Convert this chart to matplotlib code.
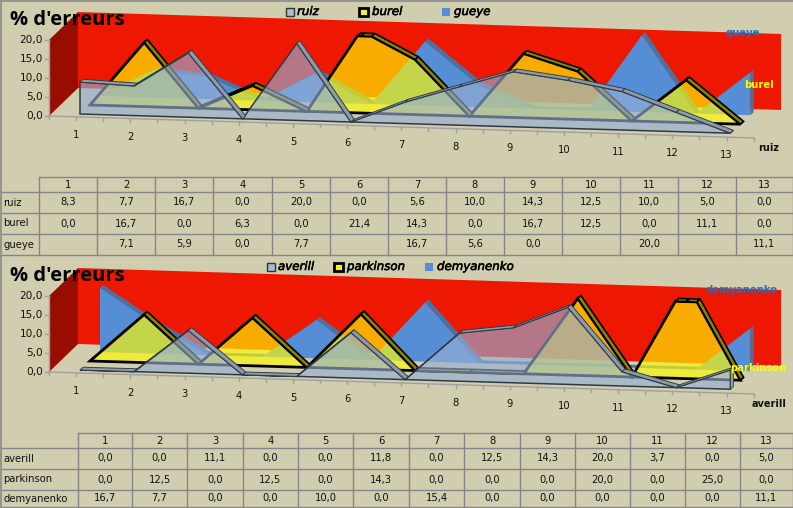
import numpy as np
import matplotlib
matplotlib.use("Agg")
import matplotlib.pyplot as plt
import matplotlib.patheffects as pe
from matplotlib.patches import Polygon, Rectangle
from matplotlib.transforms import Affine2D

categories = list(range(1, 14))
value_ticks = [0, 5, 10, 15, 20]
VALUE_MAX = 20

# None = cellule vide dans le tableau
ruiz = [8.3, 7.7, 16.7, 0, 20, 0, 5.6, 10, 14.3, 12.5, 10, 5, 0]
burel = [0, 16.7, 0, 6.3, 0, 21.4, 14.3, 0, 16.7, 12.5, 0, 11.1, 0]
gueye = [None, 7.1, 5.9, 0, 7.7, None, 16.7, 5.6, 0, None, 20, None, 11.1]

averill = [0, 0, 11.1, 0, 0, 11.8, 0, 12.5, 14.3, 20, 3.7, 0, 5]
parkinson = [0, 12.5, 0, 12.5, 0, 14.3, 0, 0, 0, 20, 0, 25, 0]
demyanenko = [16.7, 7.7, 0, 0, 10, 0, 15.4, 0, 0, 0, 0, 0, 11.1]

BG = "#D1CDAF"
GRID = "#85858C"
FONT = "DejaVu Sans"

fig = plt.figure(figsize=(7.93, 5.08), dpi=100, facecolor=BG)
ax = fig.add_axes([0, 0, 1, 1])
ax.set_xlim(0, 793)
ax.set_ylim(508, 0)
ax.axis("off")


def projection(x0, y0, step_x=54.2, step_y=1.6, scale=3.85):
    # categorie, valeur -> pixels (faux 3D d'Excel)
    return Affine2D.from_values(step_x, step_y, 0, -scale, x0 - step_x, y0 - step_y)


def clip_top(values):
    # coupe la courbe au maximum de l'axe, comme Excel
    vals = [0 if v is None else v for v in values]
    pts = []
    for i, c in enumerate(categories):
        v = vals[i]
        if i > 0:
            prev = vals[i - 1]
            if (prev - VALUE_MAX) * (v - VALUE_MAX) < 0:
                pts.append([c - 1 + (VALUE_MAX - prev) / (v - prev), VALUE_MAX])
        pts.append([c, min(v, VALUE_MAX)])
    return np.array(pts)


def draw_area(values, proj, face, edge, lw, ribbon, side, depth=(3.2, -2.8)):
    top = proj.transform(clip_top(values))
    base = proj.transform([[categories[-1], 0], [categories[0], 0]])
    ax.add_patch(Polygon(np.vstack([top, base]), closed=True, facecolor=face,
                         edgecolor=edge, lw=lw, joinstyle="miter"))
    # bandes du dessus, seulement celles tournees vers nous
    for p, q in zip(top[:-1], top[1:]):
        if (q[1] - p[1]) / (q[0] - p[0]) * depth[0] > depth[1]:
            pts = [p, q, q + depth, p + depth]
            ax.add_patch(Polygon(pts, closed=True, facecolor=ribbon,
                                 edgecolor=edge, lw=lw * 0.6))
    # cote droit
    pts = [top[-1], base[0], base[0] + depth, top[-1] + depth]
    ax.add_patch(Polygon(pts, closed=True, facecolor=side, edgecolor=edge, lw=lw * 0.5))


def draw_table(names, rows, xs, ys):
    for i, y in enumerate(ys):
        ax.plot([xs[0] if i == 0 else 2, 793], [y, y], color=GRID, lw=1)
    for j, x in enumerate(xs):
        ax.plot([x, x], [ys[0], ys[-1]], color=GRID, lw=1)
    for j, c in enumerate(categories):
        right = xs[j + 1]
        ax.text((xs[j] + right) / 2, (ys[0] + ys[1]) / 2, str(c), ha="center", va="center",
                fontsize=7.2, color="#111111", family=FONT)
    for i, (name, row) in enumerate(zip(names, rows)):
        yc = (ys[i + 1] + ys[i + 2]) / 2
        ax.text(3, yc, name, ha="left", va="center", fontsize=7.2, color="#111111", family=FONT)
        for j, v in enumerate(row):
            if v is not None:
                txt = f"{v:.1f}".replace(".", ",")
                ax.text((xs[j] + xs[j + 1]) / 2, yc, txt, ha="center", va="center",
                        fontsize=7.2, color="#111111", family=FONT)


def draw_chart(dy, names, series, legend_pos, label_back, label_mid):
    axis_tf = projection(49 + 27.1, 116 + dy + 0.85, step_y=1.69, scale=3.8)
    wall_tf = projection(78 + 27.05, 88 + dy + 0.85, step_x=54.08, step_y=1.69, scale=3.8)

    c0, c1 = categories[0] - 0.5, categories[-1] + 0.5
    wall = wall_tf.transform([[c0, 0], [c1, 0], [c1, VALUE_MAX], [c0, VALUE_MAX]])
    ax.add_patch(Polygon(wall, closed=True, facecolor="#EE1700", edgecolor="none"))
    side = np.vstack([axis_tf.transform([[c0, 0], [c0, VALUE_MAX]]),
                      wall_tf.transform([[c0, VALUE_MAX], [c0, 0]])])
    ax.add_patch(Polygon(side, closed=True, facecolor="#990C00", edgecolor="none"))

    # axes
    p = axis_tf.transform([[c0, 0], [c1, 0]])
    ax.plot(p[:, 0], p[:, 1], color="#A0A0A0", lw=1)
    for c in np.arange(c0, c1 + 0.1, 0.5):
        q = axis_tf.transform([c, 0])
        ax.plot([q[0], q[0]], [q[1], q[1] + 3], color="#A0A0A0", lw=1)
    p = axis_tf.transform([[c0, 0], [c0, VALUE_MAX]])
    ax.plot(p[:, 0], p[:, 1], color="#A0A0A0", lw=1)
    for v in value_ticks:
        q = axis_tf.transform([c0, v])
        ax.plot([q[0] - 4, q[0]], [q[1], q[1]], color="#A0A0A0", lw=1)
        ax.text(q[0] - 6, q[1], f"{v:.1f}".replace(".", ","), ha="right", va="center",
                fontsize=7.6, color="#111111", family=FONT)
    for c in categories:
        q = axis_tf.transform([c, 0])
        ax.text(q[0], q[1] + 18, str(c), ha="center", va="center", fontsize=7.2,
                color="#111111", family=FONT)

    # series, du fond vers l'avant
    draw_area(series[2], projection(100, 96 + dy), "#558ED5", "none", 0, "#4675A5", "#4675A5")
    draw_area(series[1], projection(90, 105 + dy), (1, 0.984, 0, 0.66), "black", 2.0,
              "#8C8400", "#8C8400")
    draw_area(series[0], projection(80, 114 + dy), (0.59, 0.686, 0.83, 0.64), "#2E3A44", 1.1,
              "#8D9BA8", "#8D9BA8")

    ax.text(label_back[0], label_back[1] + dy, names[2], color="#1F6FC0", fontsize=7.2,
            fontweight="bold", va="center", family=FONT)
    ax.text(label_mid[0], label_mid[1] + dy, names[1], color="#FFFF00", fontsize=7.2,
            fontweight="bold", va="center", family=FONT)
    q = axis_tf.transform([c1, 0])
    ax.text(q[0] + 15, q[1] + 10, names[0], ha="center", va="center", fontsize=7,
            fontweight="bold", color="#111111", family=FONT)

    ax.text(10, 20 + dy, "% d'erreurs", fontsize=14.5, fontweight="bold", ha="left",
            va="center", color="black", family="Open Sans")

    # legende
    ly = 11.5 + (dy - 1 if dy else 0)
    (x_a, x_b, x_c) = legend_pos
    ax.add_patch(Rectangle((x_a, ly - 4), 8, 8, facecolor="#A9BBD3", edgecolor="#333333", lw=1))
    ax.add_patch(Rectangle((x_b, ly - 4), 9, 8, facecolor="#F3EE3A", edgecolor="black", lw=2))
    ax.add_patch(Rectangle((x_c, ly - 4), 8, 8, facecolor="#558ED5", edgecolor="none"))
    for x, name in zip((x_a + 11, x_b + 13, x_c + 12), names):
        t = ax.text(x, ly, name, ha="left", va="center", fontsize=8.5, style="italic",
                    color="black", family=FONT)
        t.set_path_effects([pe.withStroke(linewidth=0.4, foreground="black")])


names_1 = ["ruiz", "burel", "gueye"]
names_2 = ["averill", "parkinson", "demyanenko"]

draw_chart(0, names_1, [ruiz, burel, gueye], (286, 359, 442), (726, 33), (744, 85))
draw_table(names_1, [ruiz, burel, gueye],
           [39, 97, 155, 213, 272, 330, 388, 446, 504, 562, 620, 678, 736, 793],
           [177, 192, 213, 234, 255])

draw_chart(256, names_2, [averill, parkinson, demyanenko], (267, 334, 425), (706, 34), (730, 112))
draw_table(names_2, [averill, parkinson, demyanenko],
           [78, 132, 187, 243, 298, 353, 409, 464, 520, 575, 630, 685, 740, 793],
           [433, 448, 469, 490, 507])

# bord du graphique
ax.plot([1, 793], [1, 1], color="#8A8A8A", lw=1.2)
ax.plot([1, 1], [1, 508], color="#8A8A8A", lw=1.2)

fig.savefig("out.png", dpi=100, facecolor=BG)
